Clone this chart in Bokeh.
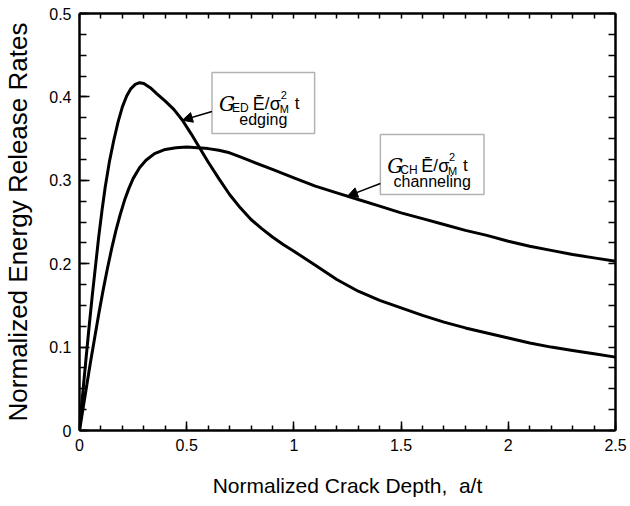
from bokeh.plotting import figure
from bokeh.models import (Range1d, LinearAxis, SingleIntervalTicker, FixedTicker,
                          BoxAnnotation, Label, Arrow, NormalHead)
from bokeh.embed import file_html
from bokeh.resources import INLINE

# ---- data ----
edging_x = [0, 0.01, 0.02, 0.03, 0.045, 0.06, 0.075, 0.09, 0.105, 0.12, 0.14, 0.16, 0.18,
            0.20, 0.22, 0.24, 0.26, 0.28, 0.30, 0.33, 0.36, 0.40, 0.44, 0.48, 0.52, 0.56,
            0.60, 0.65, 0.70, 0.75, 0.80, 0.85, 0.90, 0.95, 1.0, 1.1, 1.2, 1.3, 1.4, 1.5,
            1.6, 1.7, 1.8, 1.9, 2.0, 2.1, 2.2, 2.3, 2.4, 2.5]
edging_y = [0, 0.030, 0.058, 0.085, 0.125, 0.163, 0.198, 0.233, 0.264, 0.292, 0.323, 0.348,
            0.370, 0.388, 0.401, 0.410, 0.415, 0.417, 0.416, 0.411, 0.404, 0.395, 0.385,
            0.372, 0.356, 0.339, 0.322, 0.302, 0.283, 0.267, 0.253, 0.242, 0.232, 0.223,
            0.215, 0.198, 0.181, 0.167, 0.156, 0.147, 0.138, 0.130, 0.123, 0.117, 0.111,
            0.105, 0.100, 0.096, 0.092, 0.088]

channel_x = [0, 0.01, 0.02, 0.035, 0.05, 0.07, 0.09, 0.11, 0.13, 0.15, 0.17, 0.19, 0.21,
             0.23, 0.25, 0.28, 0.31, 0.35, 0.40, 0.45, 0.50, 0.55, 0.60, 0.65, 0.70, 0.75,
             0.80, 0.90, 1.0, 1.1, 1.2, 1.3, 1.4, 1.5, 1.6, 1.7, 1.8, 1.9, 2.0, 2.1, 2.2,
             2.3, 2.4, 2.5]
channel_y = [0, 0.016, 0.032, 0.056, 0.080, 0.110, 0.140, 0.168, 0.194, 0.218, 0.240, 0.259,
             0.276, 0.290, 0.302, 0.315, 0.324, 0.332, 0.337, 0.339, 0.340, 0.339, 0.338,
             0.336, 0.333, 0.328, 0.323, 0.313, 0.303, 0.293, 0.285, 0.277, 0.269, 0.261,
             0.254, 0.247, 0.240, 0.234, 0.227, 0.221, 0.216, 0.211, 0.207, 0.203]

x_ticks_interval = 0.5
y_ticks_interval = 0.1
x_label = "Normalized Crack Depth,\u00a0 a/t"
y_label = "Normalized Energy Release Rates"

# ---- layout ----
W, H = 630, 506
L, R, T, B = 77, 615, 13, 430
XMAX, YMAX = 2.5, 0.5
FONT = "Liberation Sans"


def dx(px):
    return (px - L) / (R - L) * XMAX


def dy(py):
    return (B - py) / (B - T) * YMAX


p = figure(width=W, height=H, x_range=Range1d(0, XMAX), y_range=Range1d(0, YMAX),
           output_backend="svg", toolbar_location=None, x_axis_type=None, y_axis_type=None,
           min_border_left=L, min_border_right=W - R, min_border_top=T,
           min_border_bottom=H - B)
p.outline_line_color = None
p.background_fill_color = "white"
p.border_fill_color = "white"

common = dict(axis_line_width=2.5, axis_line_color="black",
              major_tick_line_width=1.5, minor_tick_line_width=1.5,
              major_tick_line_color="black", minor_tick_line_color="black",
              major_tick_out=0, minor_tick_out=0,
              major_label_text_font=FONT, major_label_text_font_size="16px",
              major_label_text_color="black",
              axis_label_text_font=FONT, axis_label_text_font_style="normal",
              axis_label_text_color="black")

xb = LinearAxis(ticker=SingleIntervalTicker(interval=x_ticks_interval, num_minor_ticks=5),
                major_tick_in=9, minor_tick_in=5, major_label_standoff=8,
                major_label_overrides={0: "0"}, axis_label=x_label,
                axis_label_text_font_size="21px", axis_label_standoff=20, **common)
p.add_layout(xb, "below")

yl = LinearAxis(ticker=SingleIntervalTicker(interval=y_ticks_interval, num_minor_ticks=4),
                major_tick_in=10, minor_tick_in=7, major_label_standoff=8,
                major_label_overrides={0: "0"}, axis_label=y_label,
                axis_label_text_font_size="26px", axis_label_standoff=13, **common)
p.add_layout(yl, "left")

# frame ticks on top and right (minor ticks only, so no labels are drawn)
top_ticks = [round(i * 0.1, 6) for i in range(int(round(XMAX / 0.1)) + 1)]
right_ticks = [round(i * 0.025, 6) for i in range(int(round(YMAX / 0.025)) + 1)]
xt = LinearAxis(ticker=FixedTicker(ticks=[], minor_ticks=top_ticks),
                minor_tick_in=5, major_tick_in=0, major_label_standoff=0, **common)
p.add_layout(xt, "above")
yr = LinearAxis(ticker=FixedTicker(ticks=[], minor_ticks=right_ticks),
                minor_tick_in=7, major_tick_in=0, major_label_standoff=0, **common)
p.add_layout(yr, "right")

# ---- curves ----
p.line(edging_x, edging_y, line_color="black", line_width=3)
p.line(channel_x, channel_y, line_color="black", line_width=3)

# ---- annotation boxes ----
boxes = [
    # left, top, right, bottom (px), subscript, caption, arrow start (px), curve, x target
    (210, 72, 313, 133, "ED", "edging", (210, 111), (edging_x, edging_y), 0.48),
    (379, 134, 483, 194, "CH", "channeling", (379, 183), (channel_x, channel_y), 1.25),
]
for bl, bt, br, bb, sub, cap, (ax, ay), (cx, cy), tx in boxes:
    p.add_layout(BoxAnnotation(left=dx(bl), right=dx(br), top=dy(bt), bottom=dy(bb),
                               fill_color="white", fill_alpha=1.0, line_color="black",
                               line_width=1.5))
    i = min(range(len(cx)), key=lambda k: abs(cx[k] - tx))
    if abs(cx[i] - tx) < 1e-9:
        ex, ey = cx[i], cy[i]
    else:
        j = i + 1 if cx[i] < tx else i - 1
        ex = tx
        ey = cy[i] + (cy[j] - cy[i]) * (tx - cx[i]) / (cx[j] - cx[i])
    p.add_layout(Arrow(end=NormalHead(size=10, fill_color="black", line_color="black"),
                       x_start=dx(ax), y_start=dy(ay), x_end=ex, y_end=ey,
                       line_color="black", line_width=1.5))
    pieces = [
        ("G", 7, 31, "DejaVu Serif", "italic", "20px"),
        (sub, 20, 35, FONT, "normal", "12px"),
        ("\u0112", 41, 31, FONT, "normal", "18px"),
        ("/", 53, 31, FONT, "normal", "17px"),
        ("\u03c3", 58, 31, FONT, "normal", "18px"),
        ("2", 69, 22, FONT, "normal", "11px"),
        ("M", 68, 36, FONT, "normal", "11px"),
        ("t", 83, 31, FONT, "normal", "17px"),
    ]
    for txt, ox, oy, fnt, sty, size in pieces:
        p.add_layout(Label(x=dx(bl + ox), y=dy(bt + oy), text=txt, text_font=fnt,
                           text_font_style=sty, text_font_size=size, text_color="black",
                           text_baseline="alphabetic", text_align="left"))
    p.add_layout(Label(x=dx((bl + br) / 2), y=dy(bt + 47), text=cap, text_font=FONT,
                       text_font_size="16px", text_color="black",
                       text_baseline="alphabetic", text_align="center"))

open("out.html", "w").write(file_html(p, INLINE))
